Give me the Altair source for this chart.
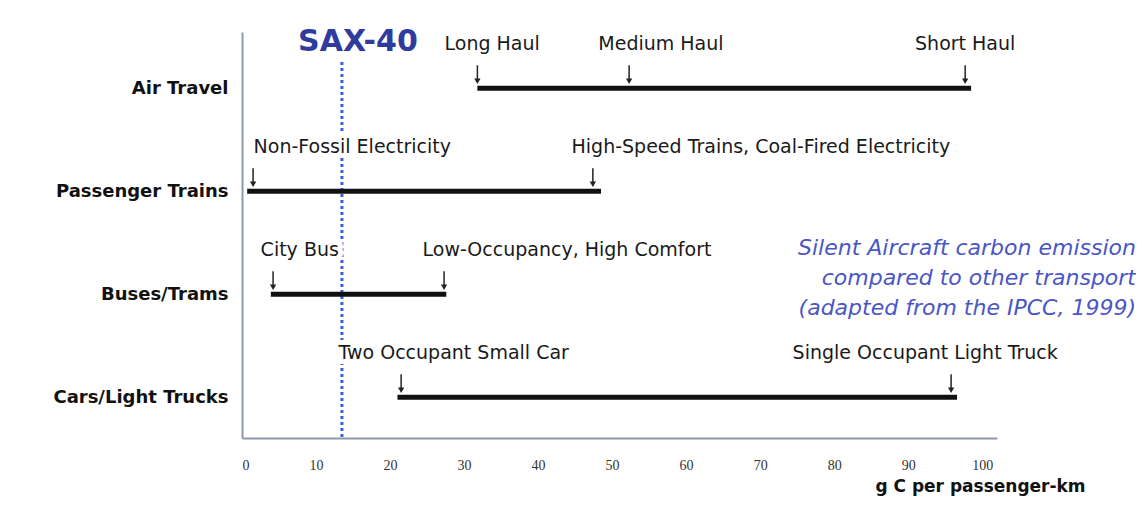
import altair as alt
import pandas as pd

categories = ["Air Travel", "Passenger Trains", "Buses/Trams", "Cars/Light Trucks"]
range_low = [31.8, 0.7, 3.9, 21.0]
range_high = [98.5, 48.5, 27.6, 96.6]

arrow_cats = ["Air Travel", "Air Travel", "Air Travel",
              "Passenger Trains", "Passenger Trains",
              "Buses/Trams", "Buses/Trams",
              "Cars/Light Trucks", "Cars/Light Trucks"]
arrow_values = [31.8, 52.3, 97.7, 1.5, 47.4, 4.2, 27.3, 21.5, 95.8]
arrow_labels = ["Long Haul", "Medium Haul", "Short Haul",
                "Non-Fossil Electricity", "High-Speed Trains, Coal-Fired Electricity",
                "City Bus", "Low-Occupancy, High Comfort",
                "Two Occupant Small Car", "Single Occupant  Light Truck"]
label_centers = [33.8, 56.6, 97.7, 14.9, 70.1, 7.8, 43.9, 28.6, 92.3]

sax_value = [13.5]
sax_label = ["SAX-40"]
x_ticks = [0, 10, 20, 30, 40, 50, 60, 70, 80, 90, 100]
note_lines = ["Silent Aircraft carbon emission",
              "compared to other transport",
              "(adapted from the IPCC, 1999)"]

bars = pd.DataFrame({"cat": categories, "low": range_low, "high": range_high})
arrows = pd.DataFrame({"cat": arrow_cats, "value": arrow_values,
                       "label": arrow_labels, "lx": label_centers})
sax = pd.DataFrame({"v": sax_value, "label": sax_label})

yscale = alt.Scale(type="point", domain=categories, padding=0.471, align=0.58)
xscale = alt.Scale(domain=[0, 102], nice=False, zero=False)

y_axis = alt.Axis(title=None, domainColor="#8c9aa8", domainWidth=2, ticks=False,
                  grid=False, labelFont="DejaVu Sans", labelFontWeight="bold",
                  labelFontSize=18, labelColor="#111111", labelPadding=14)
x_axis = alt.Axis(values=x_ticks, title="g C per passenger-km", ticks=False, grid=False,
                  domainColor="#8c9aa8", domainWidth=2,
                  labelFont="Liberation Serif", labelFontSize=14, labelColor="#333333",
                  labelPadding=20,
                  titleFont="DejaVu Sans", titleFontWeight="bold", titleFontSize=17,
                  titleColor="#111111", titleX=738, titleY=53, titleAlign="center",
                  titleBaseline="alphabetic")

Y = alt.Y("cat:N", scale=yscale, sort=categories, axis=y_axis)
X = alt.X("low:Q", scale=xscale, axis=x_axis)

sax_line = alt.Chart(sax).mark_rule(color="#3a5ee0", strokeWidth=3, strokeDash=[3, 3]).encode(
    x=alt.X("v:Q", scale=xscale, axis=x_axis), y=alt.value(30), y2=alt.value(406))

sax_text = alt.Chart(sax).mark_text(font="DejaVu Sans", fontWeight="bold", fontSize=30,
                                    color="#2f3c9e", dx=16, baseline="middle").encode(
    x=alt.X("v:Q", scale=xscale), y=alt.value(10), text="label:N")

bar_layer = alt.Chart(bars).mark_rule(color="#111111", strokeWidth=5).encode(
    x=X, x2="high:Q", y=Y)

shafts = alt.Chart(arrows).mark_rule(color="#222222", strokeWidth=1.5,
                                     yOffset=-23, y2Offset=-9).encode(
    x=alt.X("value:Q", scale=xscale), y=Y, y2=alt.Y2("cat"))

heads = alt.Chart(arrows).mark_point(shape="triangle-down", filled=True, size=40,
                                     color="#222222", opacity=1, yOffset=-7).encode(
    x=alt.X("value:Q", scale=xscale), y=Y)

halo = alt.Chart(arrows).mark_text(font="DejaVu Sans", fontSize=19, color="#ffffff",
                                   stroke="#ffffff", strokeWidth=10, yOffset=-44,
                                   baseline="middle", align="center").encode(
    x=alt.X("lx:Q", scale=xscale), y=Y, text="label:N")

labels = alt.Chart(arrows).mark_text(font="DejaVu Sans", fontSize=19, color="#1a1a1a",
                                     yOffset=-44, baseline="middle", align="center").encode(
    x=alt.X("lx:Q", scale=xscale), y=Y, text="label:N")

note = alt.Chart(sax).mark_text(text=note_lines, font="DejaVu Sans", fontStyle="italic",
                                fontSize=22, color="#4a56c6", align="right",
                                baseline="middle", lineHeight=30).encode(
    x=alt.value(894), y=alt.value(216))

chart = alt.layer(sax_line, bar_layer, shafts, heads, halo, labels, sax_text, note).properties(
    width=755, height=406,
    padding={"left": 234, "top": 24, "right": 139, "bottom": 60},
    autosize=alt.AutoSizeParams(type="none"),
    background="#ffffff",
).configure_view(stroke=None)

chart.save("out.html", embed_options={"renderer": "svg", "actions": False})
